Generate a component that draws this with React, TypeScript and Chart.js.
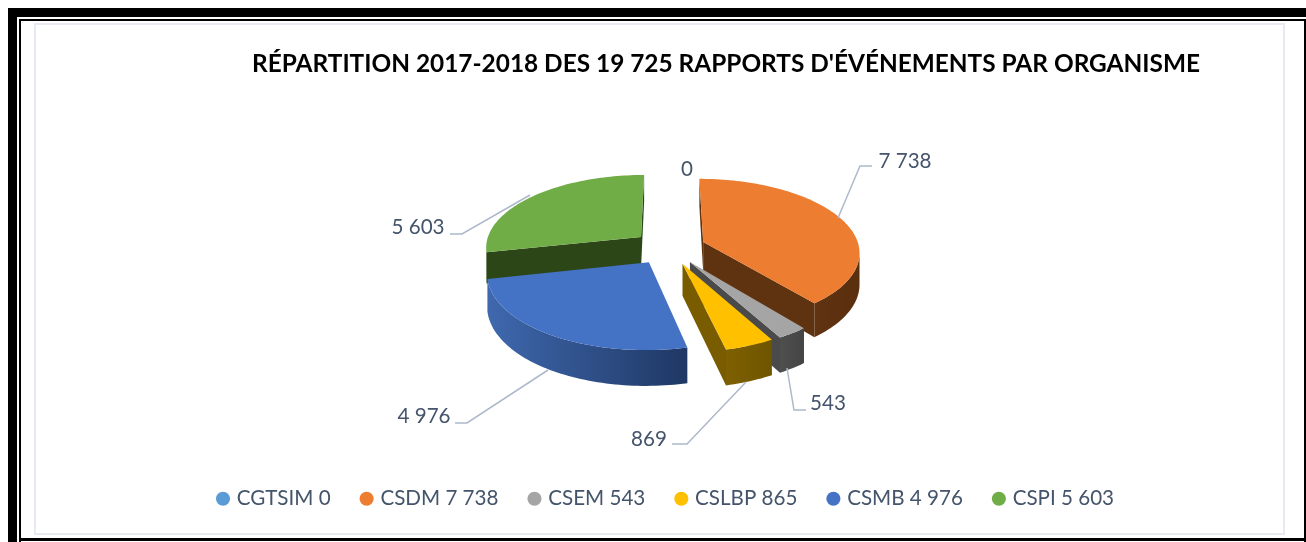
import React, { useEffect, useRef } from "react";
import { Chart, registerables } from "chart.js";

Chart.register(...registerables);

const titleText = "RÉPARTITION 2017-2018 DES 19 725 RAPPORTS D'ÉVÉNEMENTS PAR ORGANISME";
const categories = ["CGTSIM 0", "CSDM 7 738", "CSEM 543", "CSLBP 865", "CSMB 4 976", "CSPI 5 603"];
const values = [0, 7738, 543, 869, 4976, 5603];
const topColors = ["#5B9BD5", "#ED7D31", "#A5A5A5", "#FFC000", "#4472C4", "#70AD47"];
const wallColors = ["#2E5F8A", "#5F3310", "#4A4A4A", "#7A5C00", "#2F5597", "#2C4618"];
const arcLightColors = ["#2E5F8A", "#70401A", "#4F4F4F", "#7F6000", "#3F68AE", "#2C4618"];
const arcDarkColors = ["#2E5F8A", "#5A2F0E", "#444444", "#6E5500", "#1F3864", "#2C4618"];

const FONT = "Lato";
const TEXT = "#44546A";
const LEADER = "#ADB9CA";

// Oblique view of the pie: how circle coordinates map on to the page.
const VIEW = { cx: 669, cy: 247.5, rx: 156, ry: 72.5, persp: 0.128, depth: 31, depthV: 4 };

// One entry per category: label centre, and leader polyline (empty when there is none).
const LABEL_LAYOUT: { x: number; y: number; line: number[][] }[] = [
  { x: 687, y: 169, line: [] },
  { x: 905, y: 161, line: [[838, 218], [860, 166], [872, 166]] },
  { x: 828, y: 403, line: [[787, 368], [794, 410], [806, 410]] },
  { x: 649, y: 439, line: [[746, 382], [687, 444], [672, 444]] },
  { x: 424, y: 416, line: [[548, 370], [467, 423], [455, 423]] },
  { x: 418, y: 227, line: [[530, 195], [462, 234], [450, 234]] },
];

const fmt = (n: number) => String(n).replace(/\B(?=(\d{3})+$)/g, " ");

function project(u: number, v: number) {
  const f = 1 / (1 - VIEW.persp * v);
  return { x: VIEW.cx + u * VIEW.rx * f, y: VIEW.cy + v * VIEW.ry * f };
}

const drop = (p: number[]) => {
  const s = project(p[0], p[1]);
  return { x: s.x, y: s.y + VIEW.depth + VIEW.depthV * p[1] };
};

function fillWall(ctx: CanvasRenderingContext2D, pts: number[][], fill: string | CanvasGradient) {
  ctx.beginPath();
  pts.forEach((p, k) => {
    const s = project(p[0], p[1]);
    if (k) ctx.lineTo(s.x, s.y);
    else ctx.moveTo(s.x, s.y);
  });
  [...pts].reverse().forEach((p) => {
    const s = drop(p);
    ctx.lineTo(s.x, s.y);
  });
  ctx.closePath();
  ctx.fillStyle = fill;
  ctx.fill();
}

const pie3d = {
  id: "pie3d",
  beforeDatasetDraw(chart: any) {
    const ctx: CanvasRenderingContext2D = chart.ctx;
    const meta = chart.getDatasetMeta(0);
    const slices: any[] = [];
    meta.data.forEach((el: any, i: number) => {
      const { startAngle, endAngle, outerRadius } = el.getProps(["startAngle", "endAngle", "outerRadius"], true);
      if (endAngle - startAngle < 1e-6) return;
      const mid = (startAngle + endAngle) / 2;
      const off = (el.options.offset || 0) / outerRadius;
      const ou = off * Math.cos(mid);
      const ov = off * Math.sin(mid);
      const n = Math.max(8, Math.ceil((endAngle - startAngle) * 40));
      const rim: number[][] = [];
      for (let k = 0; k <= n; k++) {
        const a = startAngle + ((endAngle - startAngle) * k) / n;
        rim.push([ou + Math.cos(a), ov + Math.sin(a)]);
      }
      slices.push({ i, ou, ov, rim });
    });
    slices.sort((a, b) => a.ov - b.ov);
    const sx = (p: number[]) => project(p[0], p[1]).x;
    for (const s of slices) {
      const apex = [s.ou, s.ov];
      const first = s.rim[0];
      const last = s.rim[s.rim.length - 1];
      // The rim runs clockwise on the page, so edges heading left face the viewer.
      if (sx(first) < sx(apex)) fillWall(ctx, [apex, first], wallColors[s.i]);
      if (sx(apex) < sx(last)) fillWall(ctx, [last, apex], wallColors[s.i]);
      const xs = s.rim.map(sx);
      const grad = ctx.createLinearGradient(Math.min(...xs), 0, Math.max(...xs), 0);
      grad.addColorStop(0, arcLightColors[s.i]);
      grad.addColorStop(1, arcDarkColors[s.i]);
      let run: number[][] = [];
      for (let k = 0; k + 1 < s.rim.length; k++) {
        if (xs[k + 1] < xs[k]) {
          if (!run.length) run.push(s.rim[k]);
          run.push(s.rim[k + 1]);
        } else if (run.length) {
          fillWall(ctx, run, grad);
          run = [];
        }
      }
      if (run.length) fillWall(ctx, run, grad);
      ctx.beginPath();
      const ap = project(apex[0], apex[1]);
      ctx.moveTo(ap.x, ap.y);
      for (const p of s.rim) {
        const q = project(p[0], p[1]);
        ctx.lineTo(q.x, q.y);
      }
      ctx.closePath();
      ctx.fillStyle = topColors[s.i];
      ctx.fill();
    }
    return false;
  },
  afterDatasetsDraw(chart: any) {
    const ctx = chart.ctx;
    ctx.save();
    ctx.font = `20.6px ${FONT}`;
    ctx.textAlign = "center";
    ctx.textBaseline = "middle";
    values.forEach((v, i) => {
      const l = LABEL_LAYOUT[i];
      if (l.line.length) {
        ctx.beginPath();
        l.line.forEach((p, k) => (k ? ctx.lineTo(p[0], p[1]) : ctx.moveTo(p[0], p[1])));
        ctx.strokeStyle = LEADER;
        ctx.lineWidth = 1.5;
        ctx.stroke();
      }
      ctx.fillStyle = TEXT;
      ctx.fillText(fmt(v), l.x, l.y);
    });
    ctx.restore();
  },
};

const box = (x: number, y: number, w: number, h: number, color: string): React.CSSProperties => ({
  position: "absolute",
  left: x,
  top: y,
  width: w,
  height: h,
  background: color,
});

export default function App() {
  const ref = useRef<HTMLCanvasElement>(null);
  useEffect(() => {
    const chart = new Chart(ref.current!, {
      type: "pie",
      data: {
        labels: categories,
        datasets: [{ data: values, backgroundColor: topColors, borderWidth: 0, offset: 46, radius: 196 }],
      },
      options: {
        animation: false,
        responsive: false,
        layout: { padding: { left: 187, right: 41, top: 0, bottom: 23 } },
        plugins: {
          title: {
            display: true,
            text: titleText,
            color: "#000000",
            font: { family: FONT, size: 24.4, weight: "bold" },
            padding: { top: 50, bottom: 0 },
          },
          legend: {
            position: "bottom",
            align: "start",
            labels: {
              usePointStyle: true,
              pointStyle: "circle",
              boxHeight: 10,
              boxWidth: 7,
              padding: 32.5,
              color: TEXT,
              font: { family: FONT, size: 20.6 },
            },
          },
          tooltip: { enabled: false },
        },
      },
      plugins: [pie3d],
    } as any);
    return () => chart.destroy();
  }, []);
  return (
    <div style={{ position: "fixed", left: 0, top: 0, width: 1306, height: 542, background: "#fff", overflow: "hidden" }}>
      <div style={box(8, 8, 1298, 9, "#000")} />
      <div style={box(8, 8, 9, 534, "#000")} />
      <div style={box(19, 19, 1287, 2, "#000")} />
      <div style={box(19, 19, 2, 523, "#000")} />
      <div style={box(1304, 19, 2, 523, "#000")} />
      <div style={box(19, 538, 1287, 3, "#000")} />
      <div style={box(34, 23, 1251, 2, "#E7EAF0")} />
      <div style={box(34, 23, 2, 512, "#E7EAF0")} />
      <div style={box(1283, 23, 2, 512, "#E7EAF0")} />
      <div style={box(34, 533, 1251, 2, "#E7EAF0")} />
      <canvas ref={ref} width={1306} height={542} style={{ position: "absolute", left: 0, top: 0, display: "block" }} />
    </div>
  );
}
